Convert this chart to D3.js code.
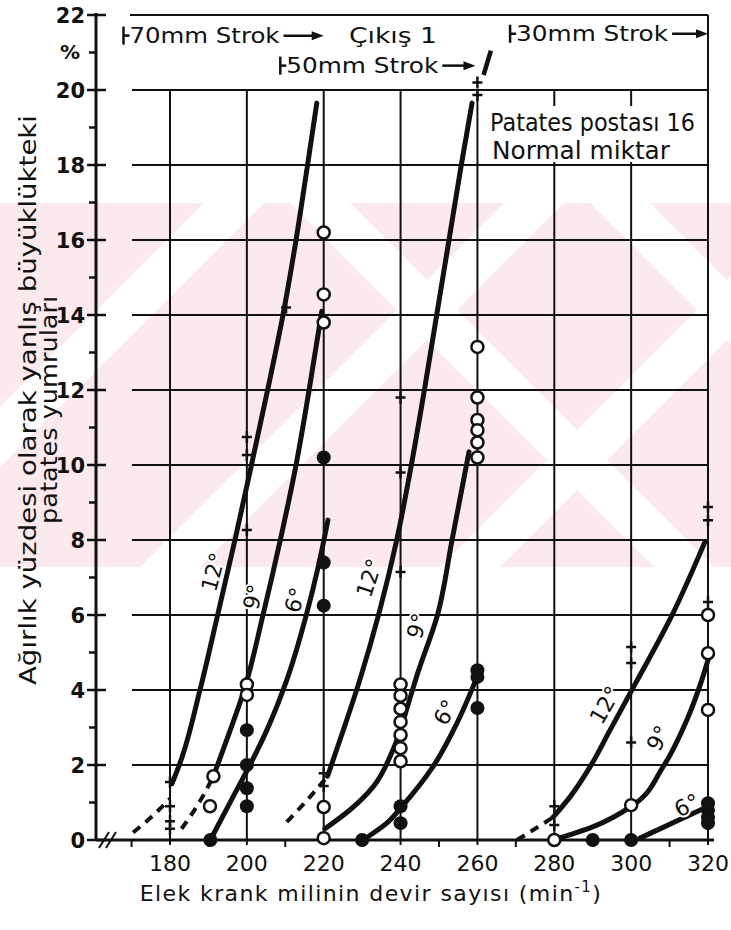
<!DOCTYPE html>
<html>
<head>
<meta charset="utf-8">
<script src="https://cdn.jsdelivr.net/npm/d3@7"></script>
<style>
  body { margin: 0; background: #fff; }
  text { font-family: "DejaVu Sans", sans-serif; fill: #111; }
</style>
</head>
<body>
<div id="chart"></div>
<script>
const xTicks = [180, 200, 220, 240, 260, 280, 300, 320];
const xMinor = [170, 190, 210, 230, 250, 270, 290, 310];
const yTicks = [0, 2, 4, 6, 8, 10, 12, 14, 16, 18, 20, 22];
const yMinor = [1, 3, 5, 7, 9, 11, 13, 15, 17, 19, 21];

// 70 mm strok
const c70_12 = [[180.5,1.5],[182.6,2.05],[187.8,4],[192.4,6],[196.9,8],[201.2,10],[205.4,12],[209.4,14],[212.8,16],[215.8,18],[218.2,19.65]];
const c70_9  = [[191.3,1.7],[195.4,2.85],[199.3,4],[204.2,6],[208.7,8],[212.8,10],[216.2,12],[219.5,14.1]];
const c70_6  = [[190.5,0],[196.4,1.15],[200.8,2],[205.2,2.93],[210.4,4.27],[215.6,6.05],[218.6,7.3],[221.1,8.53]];
const d70_12 = [[170.4,0.2],[175,0.6],[180,1.1]];
const d70_9  = [[183,0.3],[187,0.9],[191.3,1.7]];
// 50 mm strok
const c50_12 = [[221,1.7],[225,2.9],[229.4,4.27],[234.6,6.13],[239,8],[242.8,10],[246.2,12],[249.4,14],[252.6,16],[255.8,18],[258.6,19.65]];
const c50_9  = [[220.3,0.3],[226.8,0.8],[232.8,1.41],[238,2.4],[242.3,3.73],[244.3,4.4],[249.6,6],[253.4,8],[256.4,9.6],[257.8,10.35]];
const c50_6  = [[230.2,0],[236.4,0.45],[240.4,0.9],[248.4,1.95],[254.7,3.12],[259.9,4.35]];
const d50_12 = [[210.4,0.48],[216,1.1],[221,1.7]];
// 30 mm strok
const c30_12 = [[279.7,0.61],[284.1,1.15],[289.3,1.95],[294.5,2.93],[300.2,4],[310.9,6.05],[319.2,7.95]];
const c30_9  = [[279.7,0],[290,0.35],[300.5,0.93],[308.3,1.95],[314.5,3.2],[318.4,4.27],[320,4.8]];
const c30_6  = [[302.3,0.05],[319.7,0.88]];
const d30_12 = [[270.3,0],[275,0.3],[279.7,0.61]];

const plusPts = [[180,1.55],[180,0.9],[180,0.5],[180,0.3],[200,10.75],[200,10.27],[200,8.27],[210.2,14.2],
  [220,1.78],[220,1.44],[240,11.8],[240,9.8],[240,7.15],[260,20.2],[260,19.87],
  [280,0.9],[280,0.4],[300,5.15],[300,4.72],[300,2.6],[320,8.88],[320,8.53],[320,6.35]];
const openPts = [[191.3,1.7],[190.4,0.9],[200,4.15],[200,3.87],[220,16.2],[220,14.55],[220,13.8],
  [220,0.88],[220,0.05],[240,4.15],[240,3.85],[240,3.5],[240,3.15],[240,2.8],[240,2.45],[240,2.1],
  [260,13.15],[260,11.8],[260,11.2],[260,10.93],[260,10.6],[260,10.2],
  [280,0],[300,0.93],[320,6.0],[320,4.98],[320,3.47]];
const filledPts = [[190.5,0],[200,2.93],[200,2.0],[200,1.38],[200,0.9],[220,10.2],[220,7.4],[220,6.25],
  [230,0],[240,0.9],[240,0.45],[260,4.53],[260,4.35],[260,3.52],
  [290,0],[300,0],[320,0.98],[320,0.8],[320,0.6],[320,0.45]];

const angleLabels = [
  {t:"12°", x:191.2, y:7.15, r:-75}, {t:"9°", x:201.6, y:6.48, r:-76}, {t:"6°", x:212.5, y:6.4, r:-73},
  {t:"12°", x:231.8, y:6.99, r:-72}, {t:"9°", x:244.3, y:5.71, r:-73}, {t:"6°", x:251.6, y:3.41, r:-61},
  {t:"12°", x:293.2, y:3.6, r:-60}, {t:"9°", x:307, y:2.72, r:-62}, {t:"6°", x:314.5, y:0.93, r:-26}
];
// stroke ranges in the header band (rpm), text widths in px
const strokes = [
  {t:"70mm Strok", from:167.9, to:220, y:21.45, w:150},
  {t:"50mm Strok", from:208.7, to:259.5, y:20.65, w:152},
  {t:"30mm Strok", from:268.5, to:320, y:21.5, w:152}
];

const W = 731, H = 930;
const svg = d3.select("#chart").append("svg")
  .attr("width", W).attr("height", H);

const x = d3.scaleLinear().domain([180, 320]).range([170, 708]);
const y = d3.scaleLinear().domain([0, 22]).range([840, 15]);
const xAxisPos = 96;
const ink = "#111";

// watermark (light pink band with white diagonals)
const wm = svg.append("g");
wm.append("defs").append("clipPath").attr("id", "wmclip")
  .append("rect").attr("x", 0).attr("y", 203).attr("width", W).attr("height", 364);
const wmg = wm.append("g").attr("clip-path", "url(#wmclip)");
wmg.append("rect").attr("x", 0).attr("y", 203).attr("width", W).attr("height", 364).attr("fill", "#fce9ed");
[[-160, 60], [140, 60], [440, 60]].forEach(([cx, w]) => {
  wmg.append("path").attr("fill", "#fff")
    .attr("d", `M${cx},567L${cx + w},567L${cx + w + 364},203L${cx + 364},203Z`);
});
[[290, 60], [590, 60]].forEach(([cx, w]) => {
  wmg.append("path").attr("fill", "#fff")
    .attr("d", `M${cx},203L${cx + w},203L${cx + w + 364},567L${cx + 364},567Z`);
});

const grid = svg.append("g").attr("stroke", ink).attr("stroke-width", 2);
grid.selectAll("line.v").data(xTicks).join("line")
  .attr("x1", d => x(d)).attr("x2", d => x(d))
  .attr("y1", d => d === 320 ? y(22) : y(20)).attr("y2", y(0) + 5);
grid.selectAll("line.h").data(yTicks.filter(d => d > 0 && d <= 20)).join("line")
  .attr("x1", 132).attr("x2", x(320))
  .attr("y1", d => y(d)).attr("y2", d => y(d));
grid.append("line").attr("x1", 130).attr("x2", x(320)).attr("y1", y(22)).attr("y2", y(22));

// y axis
const yAx = svg.append("g").attr("stroke", ink);
yAx.append("line").attr("x1", xAxisPos).attr("x2", xAxisPos).attr("y1", y(22) - 2).attr("y2", y(0))
  .attr("stroke-width", 3);
yAx.selectAll("line.maj").data(yTicks).join("line")
  .attr("x1", xAxisPos - 9).attr("x2", xAxisPos + 10)
  .attr("y1", d => y(d)).attr("y2", d => y(d)).attr("stroke-width", 2.5);
yAx.selectAll("line.min").data(yMinor).join("line")
  .attr("x1", xAxisPos - 7).attr("x2", xAxisPos)
  .attr("y1", d => y(d)).attr("y2", d => y(d)).attr("stroke-width", 2.5);
svg.append("g").selectAll("text").data(yTicks).join("text")
  .attr("x", 85).attr("y", d => y(d)).attr("dy", "0.36em")
  .attr("text-anchor", "end").attr("font-size", 21).attr("font-weight", "bold")
  .text(d => d);
svg.append("text").attr("x", 70).attr("y", 52).attr("dy", "0.36em").attr("text-anchor", "middle")
  .attr("font-size", 20).attr("font-weight", "bold").text("%");

// x axis
const xAx = svg.append("g").attr("stroke", ink);
xAx.append("line").attr("x1", xAxisPos).attr("x2", x(320) + 6).attr("y1", y(0)).attr("y2", y(0))
  .attr("stroke-width", 3);
xAx.selectAll("line.min").data(xMinor).join("line")
  .attr("x1", d => x(d)).attr("x2", d => x(d))
  .attr("y1", y(0)).attr("y2", y(0) + 7).attr("stroke-width", 2);
xAx.append("path").attr("fill", "none").attr("stroke-width", 2)
  .attr("d", `M${xAxisPos + 3},${y(0) + 8}L${xAxisPos + 13},${y(0) - 8}M${xAxisPos + 10},${y(0) + 8}L${xAxisPos + 20},${y(0) - 8}`);
svg.append("g").selectAll("text").data(xTicks).join("text")
  .attr("x", d => x(d)).attr("y", y(0) + 23).attr("dy", "0.36em")
  .attr("text-anchor", "middle").attr("font-size", 22)
  .text(d => d);

// axis titles
const xt = svg.append("text").attr("x", 371).attr("y", 901).attr("text-anchor", "middle")
  .attr("font-size", 22).attr("letter-spacing", 1.4);
xt.append("tspan").text("Elek krank milinin devir sayısı (min");
xt.append("tspan").attr("dy", -9).attr("font-size", 15).text("-1");
xt.append("tspan").attr("dy", 9).text(")");
const yt = svg.append("g").attr("transform", "rotate(-90)");
yt.append("text").attr("x", -400).attr("y", 36).attr("text-anchor", "middle").attr("font-size", 23)
  .attr("textLength", 570).attr("lengthAdjust", "spacingAndGlyphs")
  .text("Ağırlık yüzdesi olarak yanlış büyüklükteki");
yt.append("text").attr("x", -410).attr("y", 57).attr("text-anchor", "middle").attr("font-size", 23)
  .attr("textLength", 228).attr("lengthAdjust", "spacingAndGlyphs")
  .text("patates yumruları");

// label box for series title
svg.append("rect").attr("x", 486).attr("y", 106).attr("width", x(320) - 488).attr("height", 56).attr("fill", "#fff");
svg.append("text").attr("x", 490).attr("y", 131).attr("font-size", 24)
  .attr("textLength", 205).attr("lengthAdjust", "spacingAndGlyphs").text("Patates postası 16");
svg.append("text").attr("x", 492).attr("y", 159).attr("font-size", 24)
  .attr("textLength", 178).attr("lengthAdjust", "spacingAndGlyphs").text("Normal miktar");

// header strokes
svg.append("text").attr("x", 349).attr("y", 35).attr("dy", "0.36em").attr("font-size", 21)
  .attr("textLength", 88).attr("lengthAdjust", "spacingAndGlyphs").text("Çıkış 1");
const sg = svg.append("g").selectAll("g").data(strokes).join("g");
sg.append("line").attr("stroke", ink).attr("stroke-width", 2.5)
  .attr("x1", d => x(d.from)).attr("x2", d => x(d.from))
  .attr("y1", d => y(d.y) - 9).attr("y2", d => y(d.y) + 9);
sg.append("line").attr("stroke", ink).attr("stroke-width", 2.5)
  .attr("x1", d => x(d.from)).attr("x2", d => x(d.from) + 6)
  .attr("y1", d => y(d.y)).attr("y2", d => y(d.y));
sg.append("text").attr("x", d => x(d.from) + 6).attr("y", d => y(d.y)).attr("dy", "0.36em")
  .attr("font-size", 21).attr("textLength", d => d.w).attr("lengthAdjust", "spacingAndGlyphs")
  .text(d => d.t);
sg.each(function(d) {
  const g = d3.select(this);
  const x0 = x(d.from) + 6 + d.w + 4, x1 = x(d.to), yy = y(d.y);
  g.append("line").attr("stroke", ink).attr("stroke-width", 2.5)
    .attr("x1", x0).attr("x2", x1 - 8).attr("y1", yy).attr("y2", yy);
  g.append("path").attr("fill", ink).attr("d", `M${x1},${yy}L${x1 - 12},${yy - 4.5}L${x1 - 12},${yy + 4.5}Z`);
});
// end mark of 50 mm curve
svg.append("line").attr("stroke", ink).attr("stroke-width", 4.5)
  .attr("x1", x(263.5)).attr("y1", y(21.05)).attr("x2", x(261.6)).attr("y2", y(20.4));

// curves
const line = d3.line().x(d => x(d[0])).y(d => y(d[1])).curve(d3.curveMonotoneY);
const curves = svg.append("g").attr("fill", "none").attr("stroke", ink).attr("stroke-linecap", "round");
[c70_12, c70_9, c70_6, c50_12, c50_9, c50_6, c30_12, c30_9, c30_6].forEach(c => {
  curves.append("path").attr("d", line(c)).attr("stroke-width", 5);
});
[d70_12, d70_9, d50_12, d30_12].forEach(c => {
  curves.append("path").attr("d", line(c)).attr("stroke-width", 4).attr("stroke-dasharray", "9,7")
    .attr("stroke-linecap", "butt");
});

// markers
svg.append("g").selectAll("path").data(plusPts).join("path")
  .attr("transform", d => `translate(${x(d[0])},${y(d[1])})`)
  .attr("d", "M-5,0H5M0,-6V6").attr("stroke", ink).attr("stroke-width", 2.5);
svg.append("g").selectAll("circle").data(openPts).join("circle")
  .attr("cx", d => x(d[0])).attr("cy", d => y(d[1])).attr("r", 6)
  .attr("fill", "#fff").attr("stroke", ink).attr("stroke-width", 2.5);
svg.append("g").selectAll("circle").data(filledPts).join("circle")
  .attr("cx", d => x(d[0])).attr("cy", d => y(d[1])).attr("r", 7).attr("fill", ink);

// angle labels
svg.append("g").selectAll("text").data(angleLabels).join("text")
  .attr("transform", d => `translate(${x(d.x)},${y(d.y)}) rotate(${d.r})`)
  .attr("text-anchor", "middle").attr("dy", "0.36em").attr("font-size", 22)
  .attr("stroke", "#fff").attr("stroke-width", 4).attr("paint-order", "stroke")
  .text(d => d.t);
</script>
</body>
</html>
